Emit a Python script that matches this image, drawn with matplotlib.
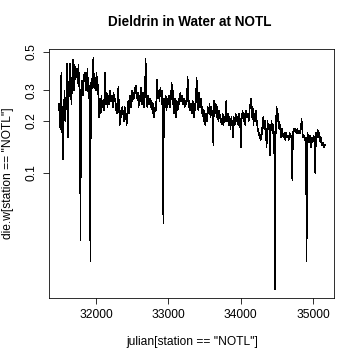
import matplotlib
matplotlib.use("Agg")
import matplotlib.pyplot as plt
from matplotlib.ticker import FixedLocator, FixedFormatter, NullLocator

julian = [
    31488, 31500, 31510, 31520, 31530, 31545, 31555, 31565, 31575, 31590,
    31600, 31612, 31625, 31640, 31650, 31660, 31672, 31685, 31695, 31705,
    31715, 31725, 31735, 31745, 31758, 31770, 31780, 31785, 31795, 31808,
    31820, 31832, 31845, 31858, 31870, 31882, 31895, 31905, 31915, 31922,
    31930, 31940, 31950, 31963, 31975, 31987, 31999, 32005, 32013, 32020,
    32028, 32036, 32045, 32055, 32065, 32075, 32085, 32095, 32110, 32125,
    32135, 32148, 32160, 32172, 32184, 32196, 32208, 32220, 32232, 32244,
    32256, 32268, 32280, 32292, 32309, 32318, 32330, 32340, 32352, 32364,
    32376, 32388, 32400, 32412, 32424, 32436, 32447, 32458, 32470, 32482,
    32494, 32506, 32518, 32530, 32542, 32555, 32566, 32578, 32590, 32602,
    32614, 32626, 32638, 32650, 32662, 32674, 32687, 32698, 32710, 32722,
    32734, 32746, 32758, 32770, 32782, 32794, 32806, 32818, 32830, 32842,
    32854, 32866, 32878, 32890, 32902, 32914, 32925, 32931, 32940, 32952,
    32964, 32976, 32988, 33000, 33012, 33024, 33035, 33047, 33058, 33070,
    33082, 33094, 33106, 33118, 33130, 33142, 33154, 33166, 33178, 33190,
    33202, 33214, 33226, 33240, 33254, 33268, 33280, 33292, 33304, 33316,
    33328, 33340, 33352, 33364, 33376, 33392, 33404, 33415, 33427, 33439,
    33451, 33463, 33475, 33487, 33499, 33511, 33523, 33535, 33547, 33559,
    33571, 33583, 33595, 33607, 33623, 33632, 33644, 33656, 33668, 33680,
    33692, 33704, 33716, 33728, 33740, 33752, 33764, 33776, 33788, 33800,
    33812, 33824, 33836, 33848, 33860, 33872, 33884, 33896, 33908, 33920,
    33932, 33944, 33956, 33968, 33980, 33992, 34005, 34016, 34028, 34040,
    34052, 34064, 34076, 34088, 34100, 34112, 34124, 34144, 34155, 34167,
    34179, 34191, 34203, 34215, 34227, 34239, 34251, 34263, 34275, 34290,
    34302, 34314, 34326, 34338, 34350, 34360, 34372, 34384, 34396, 34406,
    34418, 34429, 34440, 34452, 34464, 34470, 34475, 34487, 34499, 34510,
    34522, 34534, 34546, 34558, 34570, 34582, 34594, 34606, 34618, 34630,
    34642, 34654, 34666, 34678, 34690, 34702, 34715, 34725, 34737, 34749,
    34761, 34773, 34785, 34797, 34809, 34821, 34833, 34844, 34856, 34868,
    34880, 34892, 34904, 34908, 34913, 34925, 34937, 34949, 34961, 34973,
    34985, 34997, 35009, 35021, 35033, 35043, 35055, 35067, 35079, 35091,
    35103, 35115, 35127, 35139, 35151, 35160, 35167,
]

dieldrin = [
    0.25, 0.19, 0.18, 0.38, 0.19, 0.12, 0.22, 0.30, 0.20, 0.28,
    0.43, 0.16, 0.30, 0.43, 0.32, 0.25, 0.36, 0.45, 0.30, 0.42,
    0.35, 0.38, 0.40, 0.33, 0.42, 0.30, 0.125, 0.041, 0.30, 0.34,
    0.28, 0.36, 0.38, 0.30, 0.33, 0.40, 0.28, 0.32, 0.115, 0.031,
    0.33, 0.30, 0.36, 0.46, 0.31, 0.35, 0.30, 0.377, 0.31, 0.36,
    0.30, 0.26, 0.21, 0.27, 0.22, 0.28, 0.24, 0.26, 0.23, 0.377,
    0.25, 0.29, 0.24, 0.28, 0.25, 0.30, 0.26, 0.28, 0.24, 0.29,
    0.26, 0.27, 0.23, 0.22, 0.315, 0.24, 0.19, 0.23, 0.21, 0.24,
    0.22, 0.20, 0.24, 0.22, 0.19, 0.23, 0.26, 0.22, 0.28, 0.24,
    0.30, 0.26, 0.29, 0.27, 0.31, 0.32, 0.27, 0.29, 0.24, 0.28,
    0.26, 0.31, 0.25, 0.29, 0.24, 0.27, 0.455, 0.27, 0.24, 0.28,
    0.25, 0.27, 0.24, 0.26, 0.22, 0.25, 0.21, 0.24, 0.23, 0.345,
    0.27, 0.30, 0.26, 0.31, 0.28, 0.30, 0.13, 0.051, 0.27, 0.24,
    0.28, 0.23, 0.27, 0.25, 0.28, 0.24, 0.27, 0.33, 0.25, 0.30,
    0.22, 0.27, 0.21, 0.26, 0.23, 0.27, 0.25, 0.29, 0.26, 0.28,
    0.25, 0.27, 0.24, 0.26, 0.25, 0.36, 0.24, 0.26, 0.23, 0.25,
    0.22, 0.26, 0.21, 0.25, 0.23, 0.355, 0.26, 0.23, 0.29, 0.24,
    0.27, 0.22, 0.24, 0.20, 0.23, 0.19, 0.22, 0.20, 0.24, 0.22,
    0.25, 0.21, 0.24, 0.22, 0.145, 0.26, 0.22, 0.25, 0.21, 0.24,
    0.20, 0.23, 0.21, 0.20, 0.19, 0.22, 0.19, 0.21, 0.20, 0.26,
    0.20, 0.22, 0.19, 0.21, 0.18, 0.21, 0.19, 0.16, 0.21, 0.19,
    0.22, 0.20, 0.21, 0.19, 0.22, 0.20, 0.14, 0.21, 0.23, 0.20,
    0.22, 0.19, 0.23, 0.21, 0.22, 0.20, 0.23, 0.27, 0.21, 0.24,
    0.19, 0.22, 0.20, 0.23, 0.19, 0.18, 0.165, 0.17, 0.155, 0.16,
    0.19, 0.21, 0.18, 0.20, 0.17, 0.14, 0.20, 0.18, 0.19, 0.127,
    0.18, 0.20, 0.17, 0.19, 0.16, 0.07, 0.0214, 0.19, 0.24, 0.20,
    0.22, 0.18, 0.19, 0.16, 0.18, 0.17, 0.16, 0.17, 0.155, 0.17,
    0.16, 0.165, 0.155, 0.17, 0.16, 0.165, 0.091, 0.17, 0.18, 0.175,
    0.18, 0.17, 0.18, 0.17, 0.175, 0.17, 0.18, 0.205, 0.17, 0.16,
    0.165, 0.155, 0.16, 0.073, 0.031, 0.17, 0.16, 0.15, 0.165, 0.14,
    0.16, 0.15, 0.165, 0.155, 0.10, 0.17, 0.16, 0.177, 0.16, 0.17,
    0.15, 0.16, 0.145, 0.15, 0.14, 0.145, 0.145,
]

x_ticks = [32000, 33000, 34000, 35000]
x_tick_labels = ["32000", "33000", "34000", "35000"]
y_ticks = [0.1, 0.2, 0.3, 0.5]
y_tick_labels = ["0.1", "0.2", "0.3", "0.5"]

title = "Dieldrin in Water at NOTL"
xlabel = 'julian[station == "NOTL"]'
ylabel = 'die.w[station == "NOTL"]'

plt.rcParams['font.family'] = ['Liberation Sans', 'DejaVu Sans']

W = H = 360
fig = plt.figure(figsize=(5, 5), dpi=72)
ax = fig.add_axes([49 / W, 1 - 298 / H, (334 - 49) / W, (298 - 49) / H])

ax.plot(julian, dieldrin, color='black', lw=0.5, antialiased=False)
ax.set_yscale('log')
ax.set_xlim(31350, 35292)
ax.set_ylim(0.019, 0.52)

ax.xaxis.set_major_locator(FixedLocator(x_ticks))
ax.xaxis.set_major_formatter(FixedFormatter(x_tick_labels))
ax.yaxis.set_major_locator(FixedLocator(y_ticks))
ax.yaxis.set_major_formatter(FixedFormatter(y_tick_labels))
ax.xaxis.set_minor_locator(NullLocator())
ax.yaxis.set_minor_locator(NullLocator())

ax.tick_params(axis='both', direction='out', length=6, width=0.8, labelsize=12, colors='black')
ax.tick_params(axis='x', pad=5)
ax.tick_params(axis='y', pad=5)
for lab in ax.get_yticklabels():
    lab.set_rotation(90)
    lab.set_va('center')
for s in ax.spines.values():
    s.set_linewidth(0.8)

fig.text(190 / W, 1 - 22 / H, title, ha='center', va='center', fontsize=13.5, fontweight='bold')
fig.text(192 / W, 1 - 342 / H, xlabel, ha='center', va='center', fontsize=12)
fig.text(8 / W, 1 - 173 / H, ylabel, ha='center', va='center', fontsize=12, rotation=90)

fig.savefig('out.png', dpi=72, facecolor='white')
